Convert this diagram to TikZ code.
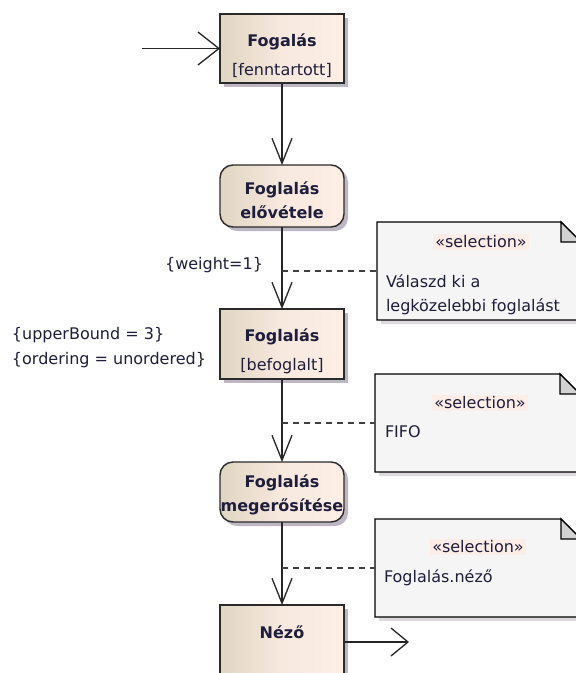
\documentclass[tikz,border=0pt]{standalone}
\usepackage{fontspec}
\setmainfont{DejaVu Sans}
\usetikzlibrary{arrows.meta,calc,shadows}

\definecolor{txt}{HTML}{1E1E3C}
\definecolor{actL}{HTML}{E0D5C2}
\definecolor{actM}{HTML}{F7E9DE}
\definecolor{actR}{HTML}{FEEEE6}
\definecolor{shade}{HTML}{BDB7C3}
\definecolor{noteshade}{HTML}{DCD8DE}
\definecolor{notefill}{HTML}{F5F5F5}
\definecolor{foldfill}{HTML}{D2D2D2}
\definecolor{stereo}{HTML}{FCEDE6}
\definecolor{edge}{HTML}{2A2A2A}

\tikzset{
  every node/.style={inner sep=0pt, outer sep=0pt, text=txt},
  lbl/.style={font=\fontsize{16}{24.5}\selectfont},
  bname/.style={font=\bfseries\fontsize{16}{24}\selectfont},
  activity/.style={draw=edge, line width=1.4pt, minimum width=124pt,
    left color=actL, right color=actR, middle color=actM,
    drop shadow={shadow xshift=4pt, shadow yshift=-4pt, fill=shade, opacity=1}},
  objbox/.style={activity, rectangle},
  actbox/.style={activity, rectangle, rounded corners=13pt},
  notearea/.style={rectangle, minimum width=204pt, minimum height=98pt},
  notebody/.style={draw=black, line width=1.3pt, fill=notefill},
  foldpart/.style={draw=black, line width=1.3pt, fill=foldfill, line join=miter},
  flow/.style={draw=black!85, line width=1.3pt},
  dashline/.style={draw=black!75, line width=1.2pt, dash pattern=on 6pt off 5pt},
  stereotype/.style={lbl, fill=stereo, inner xsep=2pt, inner ysep=2pt},
}

% UML note with a folded top-right corner, drawn around a named rectangle
\newcommand{\drawnote}[1]{%
  \fill[noteshade] ($(#1.south west)+(4,0)$) rectangle ($(#1.south east)+(4,4)$);
  \path[notebody] (#1.north west) -- ($(#1.north east)+(-20,0)$)
    -- ($(#1.north east)+(0,20)$) -- (#1.south east) -- (#1.south west) -- cycle;
  \path[foldpart] ($(#1.north east)+(-20,0)$) -- ($(#1.north east)+(-20,20)$)
    -- ($(#1.north east)+(0,20)$) -- cycle;
}

\begin{document}
\begin{tikzpicture}[x=1pt, y=-1pt]
  \clip (0,0) rectangle (576,673);
  \fill[white] (0,0) rectangle (576,673);

  % activity / object nodes of the flow
  \node[objbox, minimum height=69pt] (b1) at (282,48.5) {};
  \node[actbox, minimum height=62pt] (b2) at (282,196) {};
  \node[objbox, minimum height=70pt] (b3) at (282,344) {};
  \node[actbox, minimum height=60pt] (b4) at (282,492) {};
  \node[objbox, minimum height=74pt] (b5) at (282,642) {};

  % labels inside the nodes
  \node[bname] (b1n) at (282,42) {Fogalás};
  \node[lbl]   (b1s) at (282,70) {[fenntartott]};
  \node[bname, align=center] (b2n) at (282,200) {Foglalás\\elővétele};
  \node[bname] (b3n) at (282,337) {Foglalás};
  \node[lbl]   (b3s) at (282,366) {[befoglalt]};
  \node[bname, align=center] (b4n) at (282,495) {Foglalás\\megerősítése};
  \node[bname] (b5n) at (282,632) {Néző};

  % notes
  \node[notearea] (n1) at (479,271) {};
  \node[notearea, minimum width=205pt] (n2) at (477.5,423) {};
  \node[notearea, minimum width=206pt] (n3) at (478,568) {};
  \drawnote{n1}
  \drawnote{n2}
  \drawnote{n3}

  \node[stereotype] (n1st) at (481,242) {«selection»};
  \node[lbl, anchor=west, align=left] (n1t) at (386,295) {Válaszd ki a\\legközelebbi foglalást};
  \node[stereotype] (n2st) at (480,403) {«selection»};
  \node[lbl, anchor=west] (n2t) at (385,432) {FIFO};
  \node[stereotype] (n3st) at (478,547) {«selection»};
  \node[lbl, anchor=west] (n3t) at (384,578) {Foglalás.néző};

  % constraint labels
  \node[lbl, anchor=east] (wt) at (263,265) {\{weight=1\}};
  \node[lbl, anchor=west, align=left] (cons) at (12,347.5) {\{upperBound = 3\}\\\{ordering = unordered\}};

  % control / object flow
  \coordinate (start) at (142,48.5);
  \coordinate (finish) at (409,642);
  \draw[flow, -{Straight Barb[length=21pt,width=33pt]}] (start) -- (b1.west);
  \draw[flow, -{Straight Barb[length=25pt,width=20pt]}] (b1.south) -- (b2.north);
  \draw[flow, -{Straight Barb[length=25pt,width=20pt]}] (b2.south) -- (b3.north);
  \draw[flow, -{Straight Barb[length=25pt,width=20pt]}] (b3.south) -- (b4.north);
  \draw[flow, -{Straight Barb[length=25pt,width=20pt]}] (b4.south) -- (b5.north);
  \draw[flow, -{Straight Barb[length=17pt,width=28pt]}] (b5.east) -- (finish);

  % note attachments
  \draw[dashline] (n1.west -| b2.south) -- (n1.west);
  \draw[dashline] (n2.west -| b3.south) -- (n2.west);
  \draw[dashline] (n3.west -| b4.south) -- (n3.west);
\end{tikzpicture}
\end{document}
